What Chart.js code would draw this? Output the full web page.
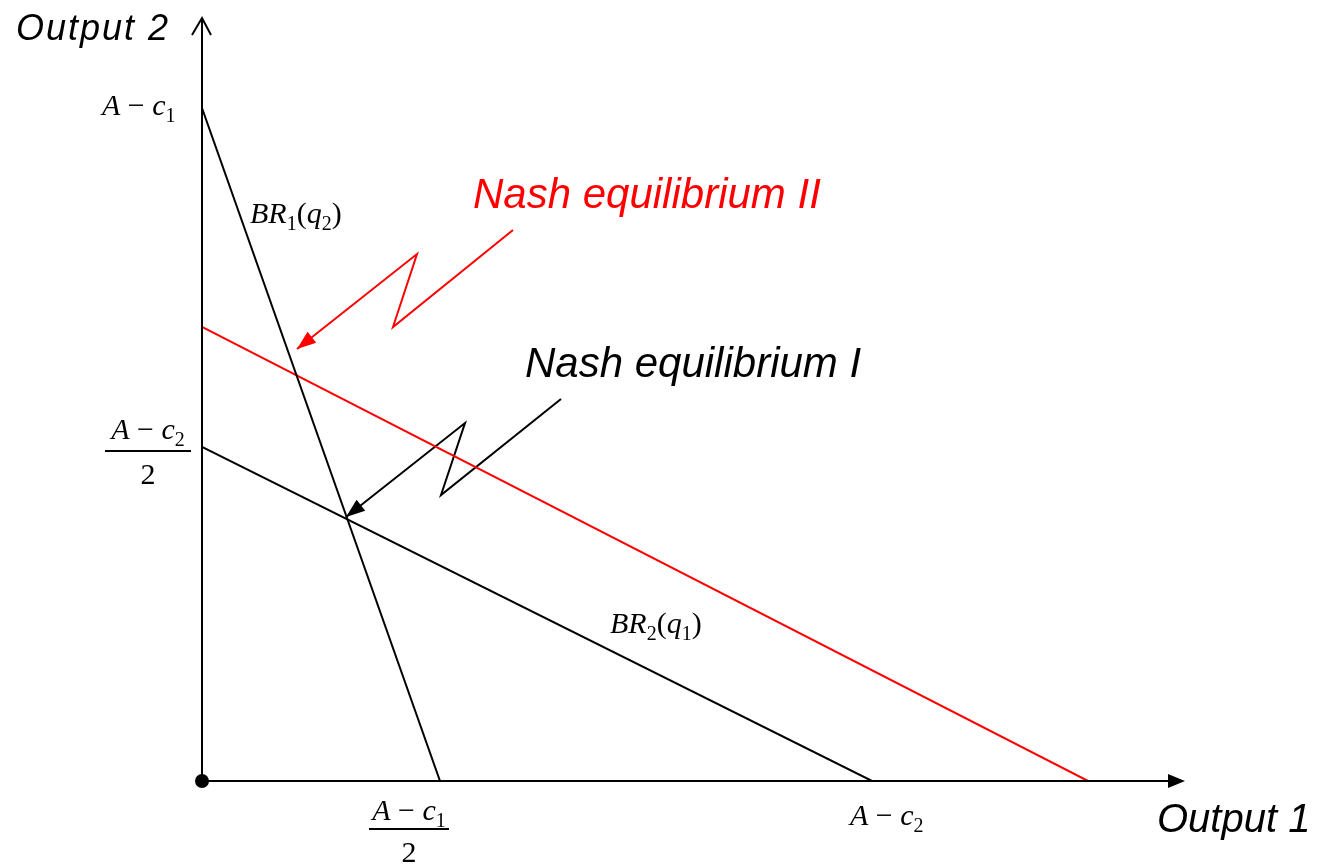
<!DOCTYPE html>
<html>
<head>
<meta charset="utf-8">
<script src="https://cdn.jsdelivr.net/npm/chart.js@4"></script>
<style>
  body { margin: 0; background: #fff; }
  #chart { display: block; }
</style>
</head>
<body>
<canvas id="chart" width="1321" height="865"></canvas>
<script>
// best response lines (output 1 on x, output 2 on y)
const br1X = [0, 2.38];
const br1Y = [6.73, 0];
const br2X = [0, 6.7];
const br2Y = [3.34, 0];
const br2NewX = [0, 8.86];
const br2NewY = [4.54, 0];

// zigzag pointers to the two equilibria
const nash1X = [3.59, 2.39, 2.63, 1.44];
const nash1Y = [3.82, 2.86, 3.58, 2.64];
const nash2X = [3.11, 1.91, 2.15, 0.95];
const nash2Y = [5.51, 4.54, 5.27, 4.32];

// tick positions
const xTickValues = [2.38, 6.7];
const yTickValues = [6.73, 3.34];

const xMax = 9.83;
const yMax = 7.63;

const toPoints = (xs, ys) => xs.map((x, i) => ({ x: x, y: ys[i] }));

const SERIF = "'Liberation Serif', 'Times New Roman', serif";
const SANS = "'Liberation Sans', Arial, sans-serif";

// draw a piece of math like A − c1 : parts = [text, italic, subscript]
const partFont = (p) => (p[1] ? "italic " : "") + (p[2] ? "20px " : "30px ") + SERIF;

const mathWidth = (ctx, parts) => {
  let w = 0;
  parts.forEach((p) => {
    ctx.font = partFont(p);
    w += ctx.measureText(p[0]).width;
  });
  return w;
};

const drawMath = (ctx, parts, x, y) => {
  ctx.textAlign = "left";
  ctx.textBaseline = "alphabetic";
  parts.forEach((p) => {
    ctx.font = partFont(p);
    ctx.fillText(p[0], x, p[2] ? y + 7 : y);
    x += ctx.measureText(p[0]).width;
  });
};

const drawFraction = (ctx, parts, cx, barY, barW, numGap) => {
  const w = mathWidth(ctx, parts);
  drawMath(ctx, parts, cx - w / 2, barY - numGap);
  ctx.fillRect(cx - barW / 2, barY - 1, barW, 2);
  ctx.font = "30px " + SERIF;
  ctx.textAlign = "center";
  ctx.fillText("2", cx, barY + 33);
};

const aMinus = (n) => [["A", true, false], [" \u2212 ", false, false], ["c", true, false], [n, false, true]];

const arrowHead = (ctx, x0, y0, x1, y1, len, half) => {
  const a = Math.atan2(y1 - y0, x1 - x0);
  ctx.beginPath();
  ctx.moveTo(x1, y1);
  ctx.lineTo(x1 - len * Math.cos(a) + half * Math.sin(a), y1 - len * Math.sin(a) - half * Math.cos(a));
  ctx.lineTo(x1 - len * Math.cos(a) - half * Math.sin(a), y1 - len * Math.sin(a) + half * Math.cos(a));
  ctx.closePath();
  ctx.fill();
};

const diagramPlugin = {
  id: "diagram",
  afterDatasetsDraw(chart) {
    const ctx = chart.ctx;
    const xs = chart.scales.x;
    const ys = chart.scales.y;
    const area = chart.chartArea;
    const ox = xs.getPixelForValue(0);
    const oy = ys.getPixelForValue(0);
    ctx.save();

    // axes
    ctx.strokeStyle = "#000";
    ctx.fillStyle = "#000";
    ctx.lineWidth = 2;
    ctx.beginPath();
    ctx.moveTo(ox, oy);
    ctx.lineTo(ox, area.top + 1);
    ctx.moveTo(ox - 10, area.top + 17);
    ctx.lineTo(ox, area.top);
    ctx.lineTo(ox + 9, area.top + 17);
    ctx.moveTo(ox, oy);
    ctx.lineTo(area.right - 10, oy);
    ctx.stroke();
    arrowHead(ctx, ox, oy, area.right, oy, 17, 7);
    ctx.beginPath();
    ctx.arc(ox, oy, 7, 0, Math.PI * 2);
    ctx.fill();

    // arrowheads on the pointers
    const heads = [[nash1X, nash1Y, "#000"], [nash2X, nash2Y, "#ff0000"]];
    heads.forEach((h) => {
      const n = h[0].length;
      ctx.fillStyle = h[2];
      arrowHead(ctx,
        xs.getPixelForValue(h[0][n - 2]), ys.getPixelForValue(h[1][n - 2]),
        xs.getPixelForValue(h[0][n - 1]), ys.getPixelForValue(h[1][n - 1]), 19, 7);
    });

    // axis titles
    ctx.fillStyle = "#000";
    ctx.textBaseline = "alphabetic";
    ctx.textAlign = "left";
    ctx.font = "italic 36px " + SANS;
    ctx.letterSpacing = "2px";
    ctx.fillText("Output 2", 16, 40);
    ctx.letterSpacing = "0px";
    ctx.font = "italic 40px " + SANS;
    ctx.fillText("Output 1", 1157, 832);

    // tick labels
    drawMath(ctx, aMinus("1"), 102, ys.getPixelForValue(yTickValues[0]) + 7);
    drawFraction(ctx, aMinus("2"), 148, ys.getPixelForValue(yTickValues[1]) + 4, 86, 12);
    drawFraction(ctx, aMinus("1"), xs.getPixelForValue(xTickValues[0]) - 31, oy + 48, 80, 9);
    drawMath(ctx, aMinus("2"), xs.getPixelForValue(xTickValues[1]) - 22, oy + 44);

    // line labels
    drawMath(ctx, [["BR", true, false], ["1", false, true], ["(", false, false], ["q", true, false], ["2", false, true], [")", false, false]],
      xs.getPixelForValue(0.48), ys.getPixelForValue(5.58));
    drawMath(ctx, [["BR", true, false], ["2", false, true], ["(", false, false], ["q", true, false], ["1", false, true], [")", false, false]],
      xs.getPixelForValue(4.08), ys.getPixelForValue(1.48));

    ctx.font = "italic 42px " + SANS;
    ctx.fillStyle = "#ff0000";
    ctx.fillText("Nash equilibrium II", xs.getPixelForValue(2.71), ys.getPixelForValue(5.73));
    ctx.fillStyle = "#000";
    ctx.fillText("Nash equilibrium I", xs.getPixelForValue(3.23), ys.getPixelForValue(4.04));
    ctx.restore();
  },
};

const lineSet = (xs, ys, color, width) => ({
  data: toPoints(xs, ys),
  showLine: true,
  borderColor: color,
  borderWidth: width,
  pointRadius: 0,
  fill: false,
  tension: 0,
});

new Chart(document.getElementById("chart"), {
  type: "scatter",
  data: {
    datasets: [
      lineSet(br1X, br1Y, "#000", 2),
      lineSet(br2X, br2Y, "#000", 2),
      lineSet(br2NewX, br2NewY, "#ff0000", 2),
      lineSet(nash1X, nash1Y, "#000", 2),
      lineSet(nash2X, nash2Y, "#ff0000", 2),
    ],
  },
  options: {
    responsive: false,
    animation: false,
    events: [],
    layout: { padding: { left: 202, right: 136, top: 18, bottom: 84 } },
    plugins: { legend: { display: false }, tooltip: { enabled: false } },
    scales: {
      x: { type: "linear", min: 0, max: xMax, display: false },
      y: { type: "linear", min: 0, max: yMax, display: false },
    },
  },
  plugins: [diagramPlugin],
});
</script>
</body>
</html>
